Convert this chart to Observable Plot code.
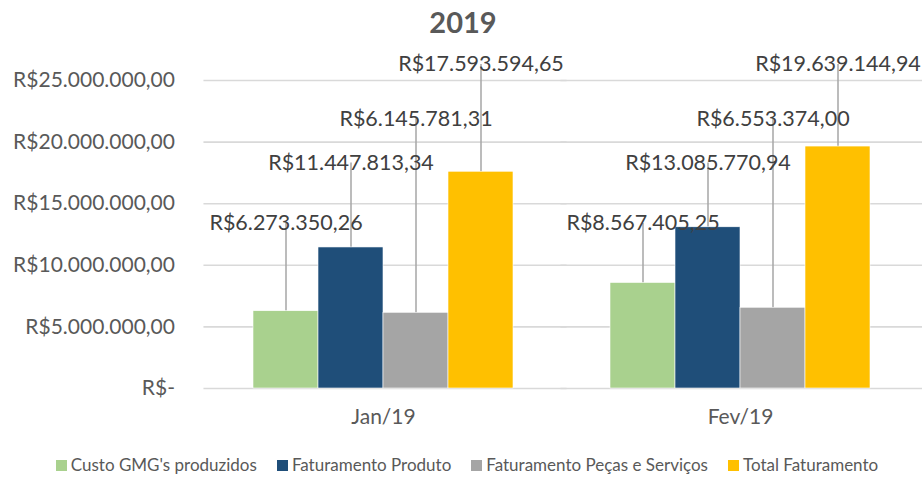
<!DOCTYPE html>
<html>
<head>
<meta charset="utf-8">
<script src="https://cdn.jsdelivr.net/npm/d3@7"></script>
<script src="https://cdn.jsdelivr.net/npm/@observablehq/plot@0.6"></script>
<style>
  html, body { margin: 0; padding: 0; background: #fff; width: 922px; height: 477px; overflow: hidden; }
  body { font-family: Lato, "Open Sans", sans-serif; }
  #title { height: 44px; line-height: 44px; text-align: center; font-size: 29px; font-weight: bold; color: #595959; padding-left: 4px; }
  #legend { display: flex; justify-content: center; gap: 20px; margin-top: 17px; padding-left: 12px; font-size: 17px; color: #595959; line-height: 20px; }
  #legend .item { display: flex; align-items: center; gap: 4px; white-space: nowrap; }
  #legend .sw { width: 11px; height: 11px; display: inline-block; }
</style>
</head>
<body>
<div id="title">2019</div>
<div id="chart"></div>
<div id="legend"></div>
<script>
const months = ["Jan/19", "Fev/19"];
const seriesNames = ["Custo GMG's produzidos", "Faturamento Produto", "Faturamento Peças e Serviços", "Total Faturamento"];
const custoGMG = [6273350.26, 8567405.25];
const faturamentoProduto = [11447813.34, 13085770.94];
const faturamentoPecas = [6145781.31, 6553374.00];
const totalFaturamento = [17593594.65, 19639144.94];
const yTicks = [0, 5000000, 10000000, 15000000, 20000000, 25000000];

// layout (label heights per series, in value units) and styles
const labelLevels = [13400000, 18300000, 21900000, 26300000];
const colors = ["#a9d18e", "#1f4e79", "#a5a5a5", "#ffc000"];

const seriesValues = [custoGMG, faturamentoProduto, faturamentoPecas, totalFaturamento];
const rows = months.flatMap((m, i) => seriesNames.map((s, j) => ({
  month: m, series: s, value: seriesValues[j][i], level: labelLevels[j]
})));

const br = d3.formatLocale({decimal: ",", thousands: ".", grouping: [3], currency: ["R$", ""]});
const fmt = br.format("$,.2f");
const tickFmt = v => v === 0 ? "R$-" : fmt(v);

const W = 922, ML = 204, MR = 4;
const padIn = 0.272, padOut = 0.136;
const step = (W - ML - MR) / (months.length - padIn + 2 * padOut);
const gridExt = step * padOut + 1;

const chart = Plot.plot({
  width: W,
  height: 394,
  marginLeft: ML,
  marginRight: MR,
  marginTop: 36,
  marginBottom: 50,
  style: {fontFamily: "Lato, 'Open Sans', sans-serif", fontSize: "21px", color: "#595959", background: "white"},
  fx: {domain: months, paddingInner: padIn, paddingOuter: padOut, label: null, tickSize: 0, tickPadding: 21},
  x: {domain: seriesNames, padding: 0, axis: null},
  y: {domain: [0, 25000000], axis: null},
  color: {domain: seriesNames, range: colors},
  marks: [
    Plot.ruleY(yTicks, {y: d => d, insetLeft: -gridExt, insetRight: -gridExt - MR, stroke: "#d9d9d9", strokeWidth: 1.6, strokeOpacity: 1}),
    Plot.axisY(yTicks, {tickFormat: tickFmt, tickSize: 0, tickPadding: 29 + gridExt, label: null, fill: "#595959", fontSize: 21}),
    Plot.ruleX(rows, {fx: "month", x: "series", y1: "value", y2: "level", insetTop: 17, stroke: "#a6a6a6", strokeWidth: 1.5}),
    Plot.barY(rows, {fx: "month", x: "series", y: "value", fill: "series", stroke: "white", strokeWidth: 0.6}),
    Plot.text(rows, {fx: "month", x: "series", y: "level", text: d => fmt(d.value), fill: "#404040", fontSize: 21.5})
  ]
});
document.getElementById("chart").appendChild(chart);

const legend = document.getElementById("legend");
seriesNames.forEach((s, j) => {
  const it = document.createElement("div");
  it.className = "item";
  const sw = document.createElement("span");
  sw.className = "sw";
  sw.style.background = colors[j];
  const tx = document.createElement("span");
  tx.textContent = s;
  it.appendChild(sw);
  it.appendChild(tx);
  legend.appendChild(it);
});
</script>
</body>
</html>
